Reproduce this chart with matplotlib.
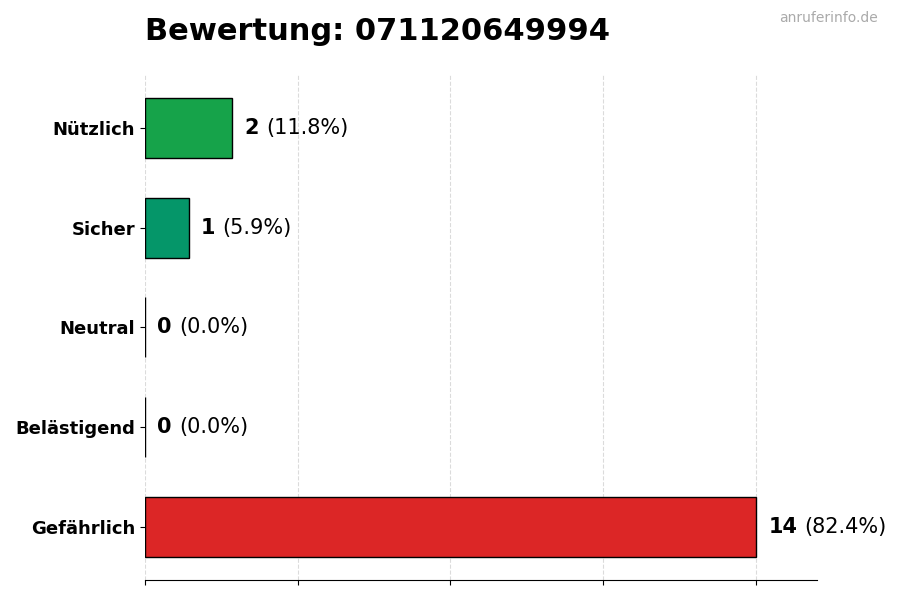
import matplotlib
matplotlib.use("Agg")
import matplotlib.pyplot as plt

# data
categories = ["Nützlich", "Sicher", "Neutral", "Belästigend", "Gefährlich"]
counts = [2, 1, 0, 0, 14]
colors = ["#16a34a", "#059669", "#9ca3af", "#f59e0b", "#dc2626"]
title = "Bewertung: 071120649994"

total = sum(counts)
ypos = list(range(len(categories)))[::-1]

fig = plt.figure(figsize=(9, 6), dpi=100)
ax = fig.add_axes([0.161, 0.0333, 0.747, 0.842])

ax.barh(ypos, counts, height=0.6, color=colors, edgecolor="black",
        linewidth=1, zorder=2)
ax.set_yticks(ypos)
ax.set_yticklabels(categories, fontsize=13, fontweight="bold")
ax.set_xlim(0, max(counts) * 1.1)
ax.set_xticks([0, 3.5, 7, 10.5, 14])
ax.set_xticklabels([])
ax.grid(axis="x", linestyle="--", color="#cccccc", linewidth=0.8, alpha=0.7, zorder=3)

for s in ["top", "right", "left"]:
    ax.spines[s].set_visible(False)

fig.canvas.draw()
r = fig.canvas.get_renderer()
for y, c in zip(ypos, counts):
    t = ax.annotate(str(c), xy=(c, y), xytext=(9, 0), textcoords="offset points",
                    va="center", ha="left", fontsize=15, fontweight="bold")
    bb = t.get_window_extent(renderer=r)
    xd, _ = ax.transData.inverted().transform((bb.x1 + 7, 0))
    ax.text(xd, y, f"({c / total * 100:.1f}%)", va="center", ha="left", fontsize=15)

fig.text(0.161, 0.947, title, fontsize=22, fontweight="bold", ha="left", va="center")
fig.text(0.975, 0.970, "anruferinfo.de", fontsize=10, color="#aaaaaa", ha="right", va="center")

fig.savefig("out.png", dpi=100)
